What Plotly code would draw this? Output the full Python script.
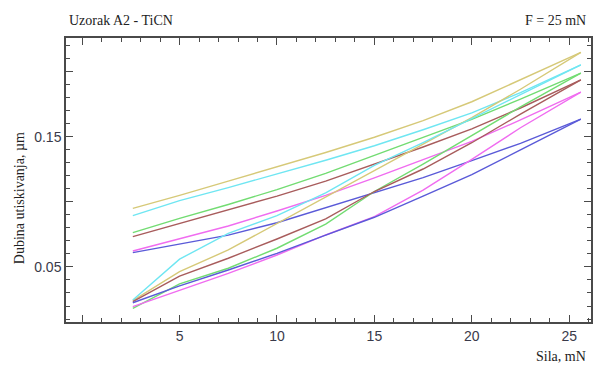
import plotly.graph_objects as go

# Force (mN) sample positions
sila = [2.6, 5, 7.5, 10, 12.5, 15, 17.5, 20, 22.5, 25.6]

# Indentation depth (um) – upper curves
yellow_upper = [0.0951, 0.1050, 0.1160, 0.1268, 0.1380, 0.1497, 0.1625, 0.1770, 0.1940, 0.2149]
cyan_upper = [0.0895, 0.1010, 0.1110, 0.1212, 0.1320, 0.1432, 0.1555, 0.1685, 0.1840, 0.2054]
green_upper = [0.0764, 0.0874, 0.0980, 0.1095, 0.1220, 0.1355, 0.1496, 0.1635, 0.1790, 0.1990]
brown_upper = [0.0733, 0.0836, 0.0938, 0.1045, 0.1160, 0.1290, 0.1422, 0.1562, 0.1722, 0.1938]
magenta_upper = [0.0623, 0.0715, 0.0815, 0.0930, 0.1050, 0.1185, 0.1325, 0.1465, 0.1630, 0.1844]
blue_upper = [0.0610, 0.0675, 0.0745, 0.0840, 0.0955, 0.1070, 0.1187, 0.1318, 0.1450, 0.1636]

# lower curves
yellow_lower = [0.0241, 0.0464, 0.0631, 0.0836, 0.1040, 0.1245, 0.1445, 0.1648, 0.1866, 0.2149]
cyan_lower = [0.0246, 0.0560, 0.0759, 0.0895, 0.1070, 0.1280, 0.1455, 0.1640, 0.1830, 0.2054]
green_lower = [0.0182, 0.0370, 0.0490, 0.0644, 0.0830, 0.1080, 0.1290, 0.1508, 0.1730, 0.1990]
brown_lower = [0.0233, 0.0430, 0.0567, 0.0715, 0.0870, 0.1080, 0.1253, 0.1455, 0.1675, 0.1938]
magenta_lower = [0.0195, 0.0323, 0.0451, 0.0592, 0.0746, 0.0887, 0.1090, 0.1327, 0.1570, 0.1844]
blue_lower = [0.0225, 0.0355, 0.0477, 0.0605, 0.0745, 0.0882, 0.1045, 0.1210, 0.1400, 0.1636]

series = [
    (yellow_upper, "#d6c978"), (cyan_upper, "#6fe6f2"), (green_upper, "#72dc72"),
    (brown_upper, "#a85c5c"), (magenta_upper, "#f06cf0"), (blue_upper, "#5a5ad8"),
    (yellow_lower, "#d6c978"), (cyan_lower, "#6fe6f2"), (green_lower, "#72dc72"),
    (brown_lower, "#a85c5c"), (magenta_lower, "#f06cf0"), (blue_lower, "#5a5ad8"),
]

x_tickvals = [0, 5, 10, 15, 20, 25]
x_ticktext = ["", "5", "10", "15", "20", "25"]
y_tickvals = [0.05, 0.10, 0.15, 0.20]
y_ticktext = ["0.05", "", "0.15", ""]

fig = go.Figure()
for ys, col in series:
    fig.add_trace(go.Scatter(x=sila, y=ys, mode="lines",
                             line=dict(color=col, width=1.4), showlegend=False,
                             hoverinfo="skip"))

L, R, T, B = 66, 2, 38, 43
W, H = 595, 365
pw, ph = W - L - R, H - T - B

def px(xp):
    return (xp - L) / pw

def py(yp):
    return (H - B - yp) / ph

axis_common = dict(
    showline=True, linecolor="#4a4a4a", linewidth=1.5, mirror="allticks",
    ticks="inside", ticklen=7, tickwidth=1, tickcolor="#4a4a4a",
    showgrid=False, zeroline=False,
    tickfont=dict(family="Liberation Sans, Arial", size=14, color="#3a3a4a"),
)

fig.update_xaxes(range=[-0.83, 26.12], tickmode="array", tickvals=x_tickvals,
                 ticktext=x_ticktext,
                 minor=dict(dtick=1, tick0=0, ticks="inside", ticklen=4,
                            tickcolor="#4a4a4a", showgrid=False),
                 **axis_common)
fig.update_yaxes(range=[0.0077, 0.226], tickmode="array", tickvals=y_tickvals,
                 ticktext=y_ticktext,
                 minor=dict(dtick=0.01, tick0=0, ticks="inside", ticklen=4,
                            tickcolor="#4a4a4a", showgrid=False),
                 **axis_common)

serif = dict(family="Liberation Serif, Times New Roman", size=14, color="#222222")
fig.update_layout(
    width=W, height=H,
    margin=dict(l=L, r=R, t=T, b=B, pad=0),
    paper_bgcolor="white", plot_bgcolor="white",
    annotations=[
        dict(text="Uzorak A2 - TiCN", xref="paper", yref="paper", x=px(67), y=py(21),
             xanchor="left", yanchor="middle", showarrow=False, font=serif),
        dict(text="F = 25 mN", xref="paper", yref="paper", x=px(590), y=py(21),
             xanchor="right", yanchor="middle", showarrow=False, font=serif),
        dict(text="Sila, mN", xref="paper", yref="paper", x=px(590), y=py(356),
             xanchor="right", yanchor="middle", showarrow=False, font=serif),
        dict(text="Dubina utiskivanja, µm", xref="paper", yref="paper", x=px(19), y=py(198),
             xanchor="center", yanchor="middle", showarrow=False, textangle=-90, font=serif),
    ],
)

fig.write_html("out.html", config={"displayModeBar": False},
               post_script="document.body.style.margin='0';document.body.style.overflow='hidden';")
